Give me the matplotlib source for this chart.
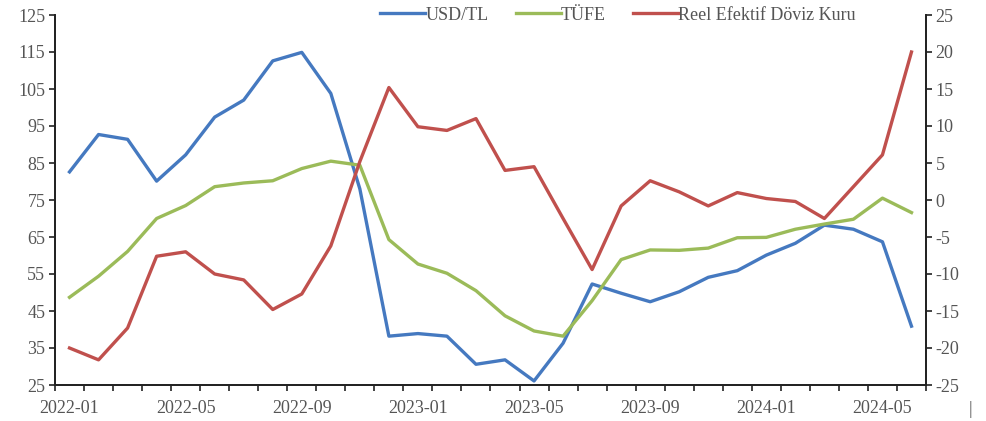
import numpy as np
import matplotlib.pyplot as plt

months = ['2022-01', '2022-02', '2022-03', '2022-04', '2022-05', '2022-06',
          '2022-07', '2022-08', '2022-09', '2022-10', '2022-11', '2022-12',
          '2023-01', '2023-02', '2023-03', '2023-04', '2023-05', '2023-06',
          '2023-07', '2023-08', '2023-09', '2023-10', '2023-11', '2023-12',
          '2024-01', '2024-02', '2024-03', '2024-04', '2024-05', '2024-06']

usd_tl = [82.6, 92.7, 91.4, 80.1, 87.2, 97.4, 102.0, 112.6, 114.9, 103.8,
          78.0, 38.2, 38.9, 38.2, 30.6, 31.8, 26.1, 36.3, 52.3, 49.8,
          47.5, 50.2, 54.1, 55.9, 60.1, 63.3, 68.2, 67.1, 63.7, 40.9]

tufe = [48.7, 54.4, 61.1, 70.0, 73.5, 78.6, 79.6, 80.2, 83.5, 85.5,
        84.4, 64.3, 57.7, 55.2, 50.5, 43.7, 39.6, 38.2, 47.8, 58.9,
        61.5, 61.4, 62.0, 64.8, 64.9, 67.1, 68.5, 69.8, 75.5, 71.6]

reer = [-20.0, -21.6, -17.3, -7.6, -7.0, -10.0, -10.8, -14.8, -12.7, -6.2,
        5.2, 15.2, 9.9, 9.4, 11.0, 4.0, 4.5, -2.5, -9.4, -0.8,
        2.6, 1.1, -0.8, 1.0, 0.2, -0.2, -2.5, 1.8, 6.1, 20.0]

labels = ['USD/TL', 'TÜFE', 'Reel Efektif Döviz Kuru']

plt.rcParams['font.family'] = ['Liberation Serif', 'DejaVu Serif']
plt.rcParams['axes.unicode_minus'] = False
txt = '#555555'

fig = plt.figure(figsize=(9.86, 4.21), dpi=100)
ax = fig.add_axes([55 / 986, 1 - 385 / 421, 871 / 986, 370 / 421])
ax2 = ax.twinx()

x = np.arange(len(months))
l1, = ax.plot(x, usd_tl, color='#4579C0', lw=2.4, label=labels[0])
l2, = ax.plot(x, tufe, color='#9BBB59', lw=2.4, label=labels[1])
l3, = ax2.plot(x, reer, color='#C0504D', lw=2.4, label=labels[2])

ax.set_xlim(-0.5, len(months) - 0.5)
ax.set_ylim(25, 125)
ax.set_yticks(np.arange(25, 126, 10))
ax2.set_ylim(-25, 25)
ax2.set_yticks(np.arange(-25, 26, 5))

ax.set_xticks(x[::4])
ax.set_xticklabels(months[::4])
ax.set_xticks(np.arange(-0.5, len(months), 1), minor=True)
ax.tick_params(axis='x', which='major', length=0, pad=11)
ax.tick_params(axis='x', which='minor', length=4, width=1.2, color='#222222')

for a in (ax, ax2):
    a.spines['top'].set_visible(False)
    for s in ('left', 'right', 'bottom'):
        a.spines[s].set_color('#222222')
        a.spines[s].set_linewidth(1.3)
    a.tick_params(axis='y', length=4, width=1.2, color='#222222', labelsize=13,
                  labelcolor=txt, pad=3)
    a.tick_params(axis='x', labelsize=13, labelcolor=txt)

fig.legend(handles=[l1, l2, l3], loc='center', bbox_to_anchor=(618 / 986, 1 - 15 / 421),
           ncol=3, frameon=False, fontsize=13, handlelength=2.5, handletextpad=0.0,
           columnspacing=1.5, labelcolor=txt)

fig.text(970 / 986, 1 - 410 / 421, '|', color=txt, fontsize=13, ha='center', va='center')

fig.savefig('out.png', dpi=100)
